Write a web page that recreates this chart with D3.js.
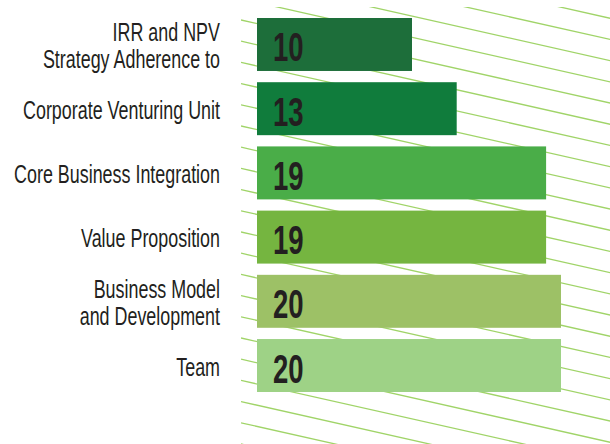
<!DOCTYPE html>
<html>
<head>
<meta charset="utf-8">
<script src="https://cdn.jsdelivr.net/npm/d3@7"></script>
<style>
  body { margin: 0; background: #fff; }
  svg { display: block; }
</style>
</head>
<body>
<div class="wrapper"></div>
<script>
//chart data
var categories = [
  ["IRR and NPV", "Strategy Adherence to"],
  ["Corporate Venturing Unit"],
  ["Core Business Integration"],
  ["Value Proposition"],
  ["Business Model", "and Development"],
  ["Team"]
];
var values = [10, 13, 19, 19, 20, 20];
var colors = ["#1d6e3a", "#107c3c", "#4aad48", "#75b540", "#9dc166", "#9ed286"];

var width = 610, height = 444;
var barLeft = 257;
var fontStack = "'Liberation Sans Narrow', 'Liberation Sans', Arial, sans-serif";

var svg = d3.select(".wrapper").append("svg")
    .attr("width", width)
    .attr("height", height);

var x = d3.scaleLinear().domain([0, 20]).range([263, 561]);
var y = d3.scaleBand()
    .domain(d3.range(values.length))
    .range([18, 392])
    .paddingInner(0.175)
    .paddingOuter(0);

//diagonal hatch behind the bars
svg.append("clipPath").attr("id", "hatch-clip")
  .append("rect")
    .attr("x", 241).attr("y", 7)
    .attr("width", width - 241).attr("height", height - 7);

var slope = 0.225, gap = 21.2;
svg.append("g")
    .attr("clip-path", "url(#hatch-clip)")
  .selectAll("line")
    .data(d3.range(-20, 22))
    .enter().append("line")
    .attr("x1", 241)
    .attr("y1", function(k) { return 20 + k * gap; })
    .attr("x2", 640)
    .attr("y2", function(k) { return 20 + k * gap + (640 - 241) * slope; })
    .attr("stroke", "#a0d468")
    .attr("stroke-width", 1.3);

svg.selectAll(".bar")
    .data(values)
    .enter().append("rect")
    .attr("class", "bar")
    .attr("x", barLeft)
    .attr("y", function(d, i) { return y(i); })
    .attr("width", function(d) { return x(d) - barLeft; })
    .attr("height", y.bandwidth())
    .attr("fill", function(d, i) { return colors[i]; });

var valueText = svg.selectAll(".value")
    .data(values)
    .enter().append("text")
    .attr("class", "value")
    .attr("font-family", fontStack)
    .attr("font-weight", "bold")
    .attr("font-size", 40)
    .attr("fill", "#231f20")
    .text(function(d) { return d; });

// no condensed face installed, so squeeze the glyphs to the reference widths
var digitW = d3.max(valueText.nodes(), function(n) { return n.getComputedTextLength(); });
var valueSqueeze = Math.min(1, 30.6 / digitW);
valueText.attr("transform", function(d, i) {
  return "translate(273," + (y(i) + y.bandwidth() / 2 + 17) + ") scale(" + valueSqueeze + ",1)";
});

var lineGap = 26.7;
var labels = svg.selectAll(".label")
    .data(categories)
    .enter().append("text")
    .attr("class", "label")
    .attr("text-anchor", "end")
    .attr("font-family", fontStack)
    .attr("font-size", 25)
    .attr("fill", "#231f20");

labels.selectAll("tspan")
    .data(function(d) { return d; })
    .enter().append("tspan")
    .attr("x", 0)
    .attr("y", function(d, j) { return j * lineGap; })
    .text(function(d) { return d; });

var labelW = d3.max(labels.selectAll("tspan").nodes(), function(n) { return n.getComputedTextLength(); });
var labelSqueeze = Math.min(1, 206 / labelW);
labels.attr("transform", function(d, i) {
  var base = y(i) + y.bandwidth() / 2 + 10 - (d.length - 1) * lineGap / 2;
  return "translate(220," + base + ") scale(" + labelSqueeze + ",1)";
});
</script>
</body>
</html>
